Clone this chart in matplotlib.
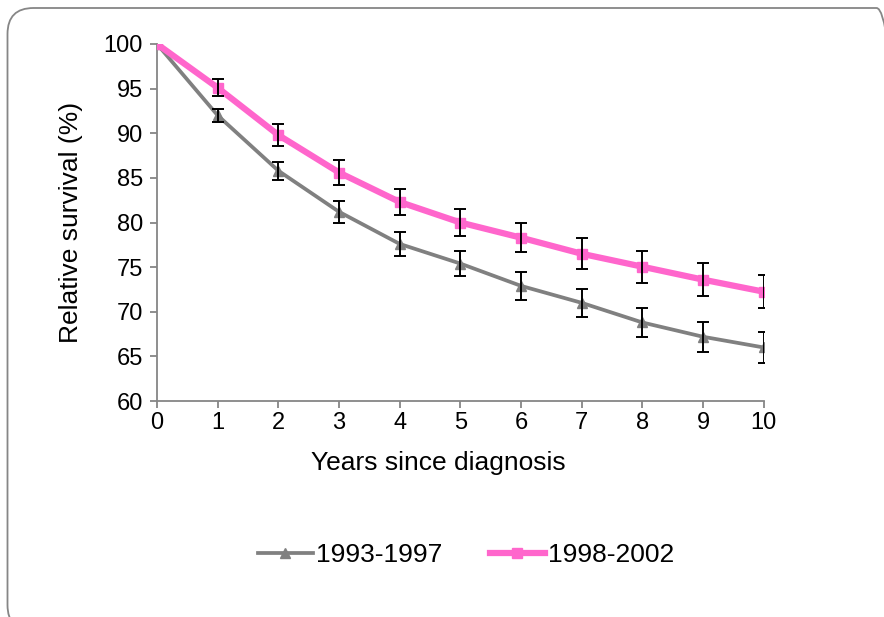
import matplotlib.pyplot as plt
from matplotlib.patches import FancyBboxPatch

plt.rcParams['font.family'] = ['Liberation Sans', 'DejaVu Sans']

years = [0, 1, 2, 3, 4, 5, 6, 7, 8, 9, 10]

# relative survival (%) and error bar half-widths
surv_93_97 = [100, 92.0, 85.8, 81.2, 77.6, 75.4, 72.9, 71.0, 68.8, 67.2, 66.0]
err_93_97 = [0, 0.7, 1.0, 1.25, 1.35, 1.4, 1.55, 1.6, 1.6, 1.65, 1.75]
surv_98_02 = [100, 95.1, 89.8, 85.6, 82.3, 80.0, 78.3, 76.5, 75.05, 73.6, 72.25]
err_98_02 = [0, 0.93, 1.2, 1.35, 1.5, 1.55, 1.65, 1.75, 1.8, 1.85, 1.85]

labels = ['1993-1997', '1998-2002']

fig = plt.figure(figsize=(8.84, 6.17), dpi=100)

# rounded chart frame (in inches, runs off the right and bottom edges)
frame = FancyBboxPatch((0.075, -0.14), 8.95, 6.17 - 0.08 + 0.14,
                       boxstyle='round,pad=0,rounding_size=0.26',
                       transform=fig.dpi_scale_trans, fill=False,
                       edgecolor='#868686', linewidth=1.3, clip_on=False)
fig.patches.append(frame)

ax = fig.add_axes([0.1776, 0.350, 0.864 - 0.1776, 0.9287 - 0.350])

l1, = ax.plot(years, surv_93_97, color='#808080', linewidth=2.7,
              marker='^', markersize=7, zorder=3)
l2, = ax.plot(years, surv_98_02, color='#ff66cc', linewidth=4.5,
              marker='s', markersize=7, zorder=4)
ax.errorbar(years[1:], surv_93_97[1:], yerr=err_93_97[1:], fmt='none',
            ecolor='black', elinewidth=1.4, capsize=4, capthick=1.4, zorder=5)
ax.errorbar(years[1:], surv_98_02[1:], yerr=err_98_02[1:], fmt='none',
            ecolor='black', elinewidth=1.4, capsize=4, capthick=1.4, zorder=5)

ax.set_xlim(0, 10)
ax.set_ylim(60, 100)
ax.set_xticks(years)
ax.set_yticks(range(60, 101, 5))
for s in ['top', 'right']:
    ax.spines[s].set_visible(False)
for s in ['left', 'bottom']:
    ax.spines[s].set_color('#868686')
    ax.spines[s].set_linewidth(1.3)
ax.tick_params(colors='#868686', labelcolor='black', labelsize=17,
               length=5, width=1.3, direction='out')
ax.tick_params(axis='x', pad=3)
ax.tick_params(axis='y', pad=5)
ax.set_xlabel('Years since diagnosis', fontsize=19)
ax.xaxis.set_label_coords(0.463, -0.14)
ax.set_ylabel('Relative survival (%)', fontsize=19, labelpad=15)

fig.legend([l1, l2], labels, loc='center', bbox_to_anchor=(0.527, 0.10),
           ncol=2, frameon=False, fontsize=19, handlelength=2.1,
           handletextpad=0.1, columnspacing=1.8)

fig.savefig('out.png', dpi=100)
